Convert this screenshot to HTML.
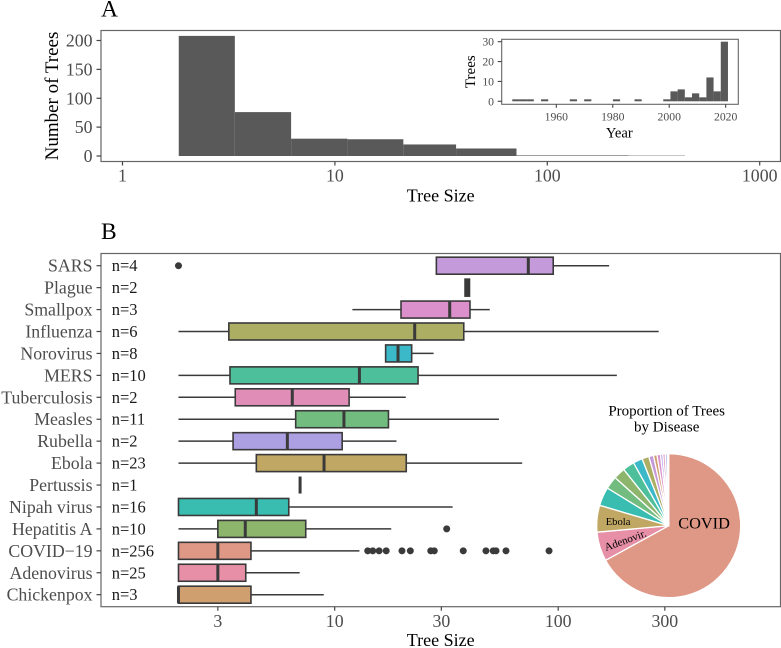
<!DOCTYPE html>
<html>
<head>
<meta charset="utf-8">
<title>Tree size by disease</title>
<style>
html,body{margin:0;padding:0;background:#fff;}
svg{display:block;font-family:"Liberation Serif","Times New Roman",serif;}
</style>
</head>
<body>
<svg id="fig" xmlns="http://www.w3.org/2000/svg" width="781" height="648" viewBox="0 0 781 648">
  <text x="101" y="16.5" font-size="23.5" fill="#000">A</text>
  <text x="101" y="239" font-size="23.5" fill="#000">B</text>
  <g id="panelA"></g>
  <g id="inset"></g>
  <g id="panelB"></g>
  <g id="pie"></g>
  <text transform="translate(58,96) rotate(-90)" text-anchor="middle" font-size="19" fill="#000">Number of Trees</text>
  <text x="440.7" y="201.7" text-anchor="middle" font-size="18" fill="#000">Tree Size</text>
  <text transform="translate(475,71.7) rotate(-90)" text-anchor="middle" font-size="15" fill="#000">Trees</text>
  <text x="619.3" y="137.3" text-anchor="middle" font-size="14.6" fill="#000">Year</text>
  <text x="440.7" y="646" text-anchor="middle" font-size="18" fill="#000">Tree Size</text>
  <text x="666.7" y="415.7" text-anchor="middle" font-size="15" fill="#000">Proportion of Trees</text>
  <text x="666.7" y="431.7" text-anchor="middle" font-size="15" fill="#000">by Disease</text>
</svg>
<script>
// Panel A histogram data
const histBinEdges = [1.84, 3.38, 6.22, 11.45, 21.0, 37.2, 71.6, 131.6, 242, 445];
const histCounts = [208, 76, 30, 29, 20, 13, 1, 1, 0.6];
const histXTicks = [1, 10, 100, 1000];
const histYTicks = [0, 50, 100, 150, 200];

// Inset data
const yearBinStart = 1944.4;
const yearBinWidth = 2.547;
const yearCounts = [1,1,1,0,1,0,0,0,1,0,1,0,0,0,1,0,0,1,0,0,0,1,5,6,2,4,2,12,5,30];
const yearXTicks = [1960, 1980, 2000, 2020];
const yearYTicks = [0, 10, 20, 30];

// Panel B box plot data
const diseases = ["SARS","Plague","Smallpox","Influenza","Norovirus","MERS","Tuberculosis","Measles","Rubella","Ebola","Pertussis","Nipah virus","Hepatitis A","COVID\u221219","Adenovirus","Chickenpox"];
const treeCounts = [4,2,3,6,8,10,2,11,2,23,1,16,10,256,25,3];
const whiskerLow = [28.5,38.3,12,2,16.9,2,2,2,2,2,7,2,2,2,2,2];
const quartile1 = [28.5,38.3,19.8,3.36,16.9,3.4,3.59,6.69,3.51,4.46,7,2,3,2,2,2];
const medians = [73.5,39,32.7,22.8,19.2,12.9,6.46,11,6.14,8.96,7,4.46,3.98,3,3,2];
const quartile3 = [95,40.1,40.3,37.8,22.1,23.6,11.6,17.4,10.8,20.9,7,6.23,7.42,4.22,4,4.22];
const whiskerHigh = [169,40.1,49.4,281.6,27.7,183,20.8,54.3,18.9,69,7,33.7,17.9,12.9,6.97,8.93];
const outlierDisease = ["SARS","Hepatitis A","COVID\u221219","COVID\u221219","COVID\u221219","COVID\u221219","COVID\u221219","COVID\u221219","COVID\u221219","COVID\u221219","COVID\u221219","COVID\u221219","COVID\u221219","COVID\u221219","COVID\u221219","COVID\u221219"];
const outlierValue = [2,31.7,14.05,14.8,15.8,17,20,21.8,26.9,27.9,37.6,47.5,51.2,52.7,58.4,91];
const boxXTicks = [3, 10, 30, 100, 300];

// Pie slice order, clockwise from twelve o'clock
const pieOrder = ["COVID\u221219","Adenovirus","Ebola","Nipah virus","Measles","Hepatitis A","MERS","Norovirus","Influenza","SARS","Chickenpox","Smallpox","Rubella","Tuberculosis","Plague","Pertussis"];

const diseaseColor = {
  "SARS":"#C49ADB","Plague":"#333333","Smallpox":"#DB8FCB","Influenza":"#ABAE63","Norovirus":"#3CB9C9",
  "MERS":"#4DBF9A","Tuberculosis":"#E08DB8","Measles":"#72BC80","Rubella":"#AC9FE2","Ebola":"#C0A763",
  "Pertussis":"#E6A0D8","Nipah virus":"#38BDB0","Hepatitis A":"#8DB56C","COVID\u221219":"#DF9786",
  "Adenovirus":"#E68FA6","Chickenpox":"#CF9F70"
};
const pieColor = Object.assign({}, diseaseColor, {"Plague":"#B5C4EA"});

const NS = "http://www.w3.org/2000/svg";
function mk(parent, tag, attrs, txt) {
  const e = document.createElementNS(NS, tag);
  for (const k in attrs) e.setAttribute(k, attrs[k]);
  if (txt !== undefined) e.textContent = txt;
  parent.appendChild(e);
  return e;
}
const FRAME = "#666666", TICK = "#444444", TICKTXT = "#4d4d4d", DARK = "#3a3a3a", HIST = "#595959";

/* ---------- Panel A ---------- */
const gA = document.getElementById("panelA");
const A = {l:101, r:780.5, t:30.5, b:161.5};
const ax = v => 122.5 + 212.4 * Math.log10(v);
const ay = v => 156 - 0.5775 * v;
histCounts.forEach((c, i) => {
  const x0 = ax(histBinEdges[i]), x1 = ax(histBinEdges[i + 1]);
  const r = mk(gA, "rect", {x:x0, y:ay(c), width:x1 - x0, height:ay(0) - ay(c), fill:HIST});
  
  
});
const frameA = mk(gA, "rect", {x:A.l, y:A.t, width:A.r - A.l, height:A.b - A.t, fill:"none", stroke:FRAME, "stroke-width":1.2});


histXTicks.forEach(v => {
  const t = mk(gA, "line", {x1:ax(v), x2:ax(v), y1:A.b, y2:A.b + 4, stroke:TICK, "stroke-width":1.2});
  
  
  const l = mk(gA, "text", {x:ax(v), y:181.7, "text-anchor":"middle", "font-size":17.8, fill:TICKTXT}, String(v));
  
  
});
histYTicks.forEach(v => {
  const t = mk(gA, "line", {x1:A.l - 4.5, x2:A.l, y1:ay(v), y2:ay(v), stroke:TICK, "stroke-width":1.2});
  
  
  const l = mk(gA, "text", {x:92.5, y:ay(v) + 6, "text-anchor":"end", "font-size":17.8, fill:TICKTXT}, String(v));
  
  
});

/* ---------- Inset ---------- */
const gI = document.getElementById("inset");
const I = {l:501.7, r:738.3, t:39.3, b:104.3};
const ix = v => 556.3 + 2.823 * (v - 1960);
const iy = v => 101.3 - 1.987 * v;
yearCounts.forEach((c, i) => {
  if (!c) return;
  const x0 = ix(yearBinStart + i * yearBinWidth), x1 = ix(yearBinStart + (i + 1) * yearBinWidth);
  const r = mk(gI, "rect", {x:x0, y:iy(c), width:x1 - x0, height:iy(0) - iy(c), fill:HIST});
  
  
});
const frameI = mk(gI, "rect", {x:I.l, y:I.t, width:I.r - I.l, height:I.b - I.t, fill:"none", stroke:FRAME, "stroke-width":1.1});


yearXTicks.forEach(v => {
  const t = mk(gI, "line", {x1:ix(v), x2:ix(v), y1:I.b, y2:I.b + 3.5, stroke:TICK, "stroke-width":1.1});
  
  
  const l = mk(gI, "text", {x:ix(v), y:120.7, "text-anchor":"middle", "font-size":11.7, fill:TICKTXT}, String(v));
  
  
});
yearYTicks.forEach(v => {
  const t = mk(gI, "line", {x1:I.l - 4, x2:I.l, y1:iy(v), y2:iy(v), stroke:TICK, "stroke-width":1.1});
  
  
  const l = mk(gI, "text", {x:494, y:iy(v) + 4, "text-anchor":"end", "font-size":11.7, fill:TICKTXT}, String(v));
  
  
});

/* ---------- Panel B ---------- */
const gB = document.getElementById("panelB");
const B = {l:101, r:780.5, t:253.5, b:606.7};
const bx = v => 334.7 + 223.5 * Math.log10(v / 10);
const by = i => 265.7 + 21.933 * i;
const BOX_H = 17;
const frameB = mk(gB, "rect", {x:B.l, y:B.t, width:B.r - B.l, height:B.b - B.t, fill:"none", stroke:FRAME, "stroke-width":1.2});


boxXTicks.forEach(v => {
  const t = mk(gB, "line", {x1:bx(v), x2:bx(v), y1:B.b, y2:B.b + 4, stroke:TICK, "stroke-width":1.2});
  
  
  const l = mk(gB, "text", {x:bx(v), y:627, "text-anchor":"middle", "font-size":17.8, fill:TICKTXT}, String(v));
  
  
});
diseases.forEach((d, i) => {
  const y = by(i);
  const t = mk(gB, "line", {x1:B.l - 4.5, x2:B.l, y1:y, y2:y, stroke:TICK, "stroke-width":1.2});
  
  
  const l = mk(gB, "text", {x:92.5, y:y + 6, "text-anchor":"end", "font-size":17.8, fill:TICKTXT}, d);
  
  
  const n = mk(gB, "text", {x:111.7, y:y + 5.5, "font-size":16.5, fill:"#1a1a1a"}, "n=" + treeCounts[i]);
  
  
  const w = mk(gB, "line", {x1:bx(whiskerLow[i]), x2:bx(whiskerHigh[i]), y1:y, y2:y, stroke:DARK, "stroke-width":1.5});
  
  
  const q0 = bx(quartile1[i]), q1 = bx(quartile3[i]);
  const r = mk(gB, "rect", {x:q0, y:y - BOX_H / 2, width:q1 - q0, height:BOX_H, fill:diseaseColor[d], stroke:DARK, "stroke-width":1.6});
  
  
  const m = mk(gB, "line", {x1:bx(medians[i]), x2:bx(medians[i]), y1:y - BOX_H / 2, y2:y + BOX_H / 2, stroke:DARK, "stroke-width":3});
  
  
});
outlierValue.forEach((v, i) => {
  const c = mk(gB, "circle", {cx:bx(v), cy:by(diseases.indexOf(outlierDisease[i])), r:3.5, fill:DARK});
  
  
});

/* ---------- Pie ---------- */
const gP = document.getElementById("pie");
const PIE = {cx:668.7, cy:525.7, r:72};
const pieTotal = pieOrder.reduce((s, d) => s + treeCounts[diseases.indexOf(d)], 0);
let pieCum = 0;
pieOrder.forEach(d => {
  const c = treeCounts[diseases.indexOf(d)];
  const a0 = pieCum / pieTotal * 2 * Math.PI;
  pieCum += c;
  const a1 = pieCum / pieTotal * 2 * Math.PI;
  const p0 = [PIE.cx + PIE.r * Math.sin(a0), PIE.cy - PIE.r * Math.cos(a0)];
  const p1 = [PIE.cx + PIE.r * Math.sin(a1), PIE.cy - PIE.r * Math.cos(a1)];
  const large = (a1 - a0) > Math.PI ? 1 : 0;
  const s = mk(gP, "path", {d:`M${PIE.cx} ${PIE.cy}L${p0[0]} ${p0[1]}A${PIE.r} ${PIE.r} 0 ${large} 1 ${p1[0]} ${p1[1]}Z`, fill:pieColor[d], stroke:"#fff", "stroke-width":1.3, "stroke-linejoin":"round"});
  
  
});
const pc = mk(gP, "text", {x:678.3, y:528.3, "font-size":16.3, fill:"#000"}, "COVID");


const pe = mk(gP, "text", {x:605.7, y:525, "font-size":10.6, fill:"#000"}, "Ebola");


const pa = mk(gP, "text", {transform:"translate(606,551) rotate(-20)", "font-size":11, fill:"#000"}, "Adenovir.");


</script>
</body>
</html>
